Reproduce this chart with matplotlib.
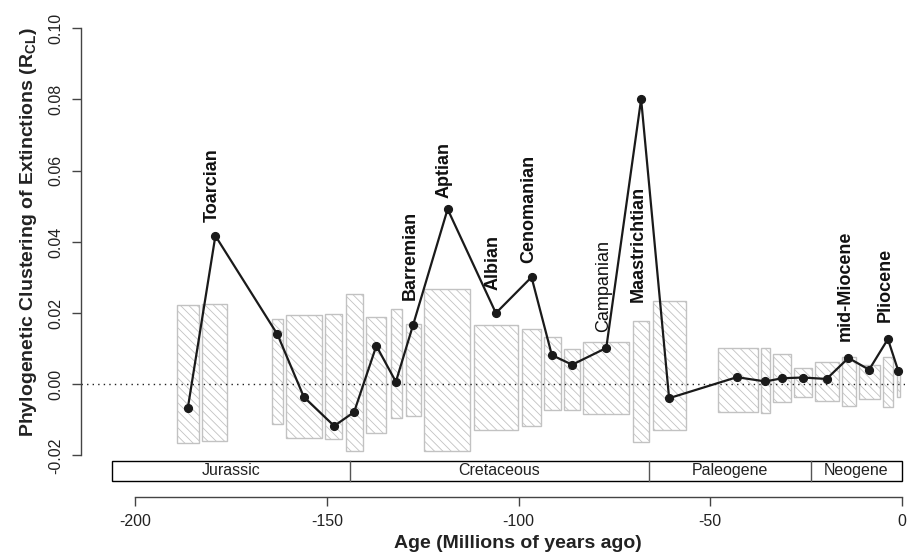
import matplotlib
matplotlib.use('Agg')
import matplotlib.pyplot as plt
from matplotlib.patches import Rectangle

plt.rcParams['font.family'] = ['Liberation Sans', 'DejaVu Sans']
plt.rcParams['mathtext.fontset'] = 'custom'
plt.rcParams['mathtext.bf'] = 'Liberation Sans:bold'
plt.rcParams['mathtext.rm'] = 'Liberation Sans'
plt.rcParams['hatch.linewidth'] = 0.6

# stage midpoints (Ma, negative = before present) and clustering of extinctions
age = [-186.3, -179.1, -162.9, -156.0, -148.1, -142.9, -137.1, -132.0, -127.5,
       -118.5, -105.9, -96.6, -91.3, -86.0, -77.1, -68.0, -60.7, -43.0, -35.6,
       -31.2, -25.8, -19.6, -13.9, -8.5, -3.6, -0.9]
rcl = [-0.0067, 0.0417, 0.0140, -0.0036, -0.0117, -0.0078, 0.0108, 0.0007, 0.0167,
       0.0492, 0.0200, 0.0301, 0.0082, 0.0055, 0.0102, 0.0801, -0.0039, 0.0020,
       0.0008, 0.0017, 0.0019, 0.0015, 0.0074, 0.0041, 0.0127, 0.0038]

# null expectation per stage: stage edges (Ma) and lower/upper envelope
stage_old = [-189.1, -182.5, -164.2, -160.8, -150.4, -145.0, -139.7, -133.4, -129.4,
             -124.6, -111.5, -99.2, -93.3, -88.1, -83.1, -70.0, -65.0, -48.0, -36.8,
             -33.5, -28.1, -22.5, -15.5, -11.1, -4.8, -1.3]
stage_young = [-183.5, -176.1, -161.5, -151.3, -146.0, -140.7, -134.5, -130.5, -125.5,
               -112.6, -100.1, -94.1, -89.0, -84.0, -71.1, -66.0, -56.2, -37.6, -34.4,
               -28.8, -23.4, -16.4, -12.0, -5.7, -2.2, -0.4]
null_lo = [-0.0164, -0.0159, -0.0111, -0.0152, -0.0153, -0.0188, -0.0138, -0.0096, -0.0089,
           -0.0187, -0.0128, -0.0116, -0.0072, -0.0073, -0.0084, -0.0163, -0.0129, -0.0078,
           -0.0080, -0.0051, -0.0036, -0.0047, -0.0062, -0.0040, -0.0064, -0.0036]
null_hi = [0.0223, 0.0225, 0.0183, 0.0195, 0.0197, 0.0253, 0.0189, 0.0211, 0.0169,
           0.0267, 0.0167, 0.0156, 0.0132, 0.0098, 0.0118, 0.0178, 0.0234, 0.0103,
           0.0101, 0.0085, 0.0047, 0.0062, 0.0076, 0.0054, 0.0076, 0.0040]

# named extinction events: point index, name, label height, bold
ev_idx = [1, 8, 9, 10, 11, 14, 15, 22, 24]
ev_name = ['Toarcian', 'Barremian', 'Aptian', 'Albian', 'Cenomanian',
           'Campanian', 'Maastrichtian', 'mid-Miocene', 'Pliocene']
ev_y = [0.0457, 0.0237, 0.0523, 0.0265, 0.0340, 0.0148, 0.0232, 0.0121, 0.0176]
ev_bold = [True, True, True, True, True, False, True, True, True]

# geological periods
period_names = ['Jurassic', 'Cretaceous', 'Paleogene', 'Neogene']
period_bounds = [-206.0, -144.0, -66.0, -23.7, 0.0]

fig = plt.figure(figsize=(9.12, 5.55), dpi=100)
ax = fig.add_axes([81 / 912, 1 - 497 / 555, (905 - 81) / 912, (497 - 20) / 555])
ax.set_xlim(-214.17, 0.86)
ax.set_ylim(-0.03166, 0.10233)

for x0, x1, lo, hi in zip(stage_old, stage_young, null_lo, null_hi):
    ax.add_patch(Rectangle((x0, lo), x1 - x0, hi - lo, facecolor='white',
                           edgecolor='#c2c2c2', hatch='\\\\\\\\', lw=1.0, zorder=1))

ax.axhline(0, color='#222222', lw=1.0, dashes=(1, 3), zorder=2)

ax.plot(age, rcl, color='#1a1a1a', lw=1.6, marker='o', ms=5.6, zorder=3)

for i, name, y, bold in zip(ev_idx, ev_name, ev_y, ev_bold):
    ax.text(age[i] - 0.8, y, name, rotation=90, ha='center', va='bottom',
            fontsize=13, fontweight='bold' if bold else 'normal', color='#111111')

# period band beneath the data
band_lo, band_hi = -0.02716, -0.02154
ax.add_patch(Rectangle((period_bounds[0], band_lo), period_bounds[-1] - period_bounds[0],
                       band_hi - band_lo, facecolor='white', edgecolor='black', lw=1.0, zorder=2))
for b in period_bounds[1:-1]:
    ax.plot([b, b], [band_lo, band_hi], color='#555555', lw=1.0, zorder=3)
for name, a, b in zip(period_names, period_bounds[:-1], period_bounds[1:]):
    ax.text((a + b) / 2, (band_lo + band_hi) / 2, name, ha='center', va='center',
            fontsize=11.5, color='#222222')

for s in ['top', 'right']:
    ax.spines[s].set_visible(False)
ax.spines['left'].set_bounds(-0.02, 0.10)
ax.spines['bottom'].set_bounds(-200, 0)
for s in ['left', 'bottom']:
    ax.spines[s].set_color('#444444')
    ax.spines[s].set_linewidth(1.0)

ax.set_xticks([-200, -150, -100, -50, 0])
ax.set_xticklabels(['-200', '-150', '-100', '-50', '0'])
yt = [-0.02, 0.0, 0.02, 0.04, 0.06, 0.08, 0.10]
ax.set_yticks(yt)
ax.set_yticklabels([f'{v:.2f}' for v in yt])
ax.tick_params(direction='out', length=6.5, width=1.0, color='#444444',
               labelsize=11.5, labelcolor='#222222')
ax.tick_params(axis='x', pad=6)
ax.tick_params(axis='y', pad=6)
for t in ax.get_yticklabels():
    t.set_rotation(90)
    t.set_va('center')

fig.text(518 / 912, 1 - 543 / 555, 'Age (Millions of years ago)', ha='center', va='center',
         fontsize=14, fontweight='bold', color='#222222')
fig.text(29 / 912, 1 - 232 / 555, r'Phylogenetic Clustering of Extinctions (R$_{\mathbf{CL}}$)',
         ha='center', va='center', rotation=90, fontsize=14, fontweight='bold', color='#222222')

fig.savefig('out.png', dpi=100)
